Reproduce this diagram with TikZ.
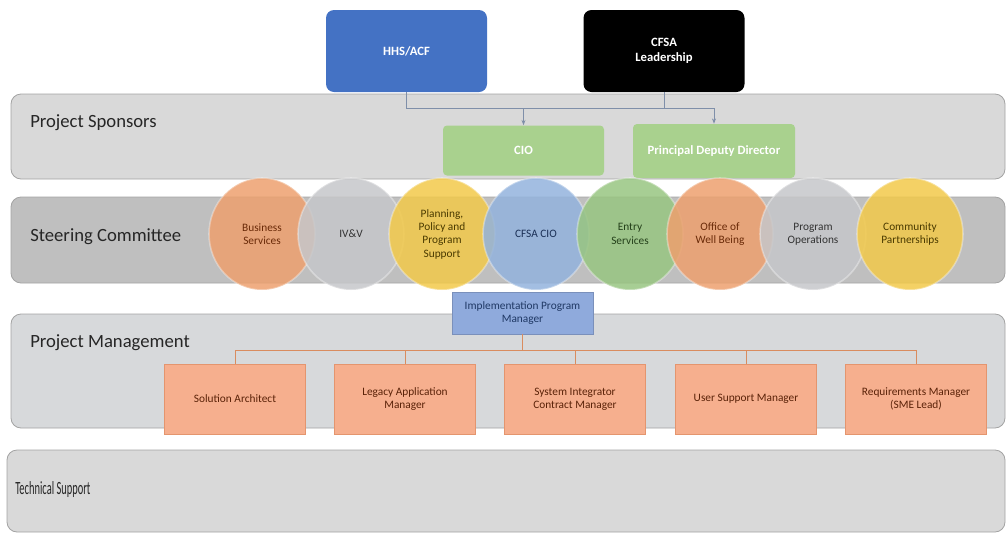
\documentclass[tikz,border=0pt]{standalone}
\usepackage{fontspec}
\setmainfont{Carlito}
\usetikzlibrary{arrows.meta,shapes.geometric}
\definecolor{bandlight}{HTML}{D9D9D9}
\definecolor{banddark}{HTML}{BFBFBF}
\definecolor{bandpm}{HTML}{D7D9DB}
\definecolor{bandline}{HTML}{A3A3A3}
\definecolor{hhsblue}{HTML}{4472C4}
\definecolor{greenbox}{HTML}{A9D18E}
\definecolor{conncol}{HTML}{7F8FA9}
\definecolor{corange}{HTML}{EDA06E}
\definecolor{cgray}{HTML}{C6C7CA}
\definecolor{cyellow}{HTML}{F2C94A}
\definecolor{cblue}{HTML}{93B3DD}
\definecolor{cgreen}{HTML}{98C581}
\definecolor{torange}{HTML}{6A2A08}
\definecolor{tgray}{HTML}{333333}
\definecolor{tyellow}{HTML}{4A3A00}
\definecolor{tblue}{HTML}{1A2F55}
\definecolor{tgreen}{HTML}{24401A}
\definecolor{ipmfill}{HTML}{8FAADC}
\definecolor{ipmtext}{HTML}{1F3864}
\definecolor{rolefill}{HTML}{F6AF8E}
\definecolor{roleline}{HTML}{E4956E}
\definecolor{roletext}{HTML}{5A2208}
\definecolor{orgline}{HTML}{D98C5F}
\begin{document}
\begin{tikzpicture}[x=0.75pt,y=-0.75pt,
  band/.style={draw=bandline, line width=0.6pt, rounded corners=7.5pt},
  bandlabel/.style={anchor=west, inner sep=0pt, font=\fontsize{14}{16}\selectfont, text=black!85},
  topbox/.style={rounded corners=6pt, minimum width=120.75pt, minimum height=61.5pt, inner sep=1pt,
    align=center, text=white, font=\bfseries\fontsize{9.5}{11.5}\selectfont},
  greenbox/.style={fill=greenbox, rounded corners=3pt, inner sep=1pt, align=center, text=white,
    font=\bfseries\fontsize{9.5}{11.5}\selectfont},
  conn/.style={draw=conncol, line width=0.6pt},
  member/.style={ellipse, minimum width=79.5pt, minimum height=84pt, inner sep=0pt,
    fill opacity=0.85, text opacity=1, draw=white, draw opacity=0.35, line width=1.2pt,
    align=center, font=\fontsize{8.5}{10}\selectfont},
  ipm/.style={fill=ipmfill, draw=ipmfill!85!black, line width=0.4pt, minimum width=105.75pt,
    minimum height=31.5pt, inner sep=1pt, align=center, text=ipmtext, font=\fontsize{8.5}{10}\selectfont},
  role/.style={fill=rolefill, draw=roleline, line width=0.5pt, minimum width=105.75pt,
    minimum height=52.5pt, inner sep=2pt, align=center, text=roletext, font=\fontsize{8.5}{10}\selectfont},
  orgconn/.style={draw=orgline, line width=0.7pt}
]
\useasboundingbox (0,0) rectangle (1008,533);

% bands
\draw[band, fill=bandlight] (11,94) rectangle (1005,179);
\draw[band, fill=banddark] (11,197) rectangle (1005,283);
\draw[band, fill=bandpm] (11,314) rectangle (1005,428);
\draw[band, fill=bandlight] (7,450) rectangle (1005,532);

\node[bandlabel] (lps) at (30,123) {Project Sponsors};
\node[bandlabel] (lsc) at (30,237) {Steering Committee};
\node[bandlabel] (lpm) at (30,343) {Project Management};
\node[bandlabel] (lts) at (15,490) {\scalebox{0.56}[1]{Technical Support}};

% top boxes
\node[topbox, fill=hhsblue] (hhs) at (406.5,51) {HHS/ACF};
\node[topbox, fill=black] (cfsa) at (664,51) {CFSA\\Leadership};

% sponsor boxes
\node[greenbox, minimum width=120.75pt, minimum height=37.5pt] (cio) at (523.5,150.5) {CIO};
\node[greenbox, minimum width=121.5pt, minimum height=40.5pt] (pdd) at (714,151) {Principal Deputy Director};

% sponsor connectors
\coordinate (jl) at (406.5,108);
\coordinate (jr) at (714,108);
\draw[conn] (hhs.south) -- (jl) -- (jr);
\draw[conn] (cfsa.south) -- (cfsa.south |- jl);
\draw[conn, -{Stealth[length=4pt,width=3pt]}] (cio.north |- jl) -- (cio.north);
\draw[conn, -{Stealth[length=4pt,width=3pt]}] (jr) -- (pdd.north);

% steering committee members
\node[member, fill=corange, text=torange] (bs) at (262,234) {Business\\Services};
\node[member, fill=cgray, text=tgray] (ivv) at (351,234) {IV\&V};
\node[member, fill=cyellow, text=tyellow] (ppp) at (442,234) {Planning,\\Policy and\\Program\\Support};
\node[member, fill=cblue, text=tblue] (ccio) at (536,234) {CFSA CIO};
\node[member, fill=cgreen, text=tgreen] (es) at (630,234) {Entry\\Services};
\node[member, fill=corange, text=torange] (owb) at (720,234) {Office of\\Well Being};
\node[member, fill=cgray, text=tgray] (po) at (813,234) {Program\\Operations};
\node[member, fill=cyellow, text=tyellow] (cp) at (910,234) {Community\\Partnerships};

% project management
\node[ipm] (ipmn) at (522.5,313) {Implementation Program\\Manager};

\node[role] (sa) at (235,399) {Solution Architect};
\node[role] (lam) at (405,399) {Legacy Application\\Manager};
\node[role] (sicm) at (575,399) {System Integrator\\Contract Manager};
\node[role] (usm) at (746,399) {User Support Manager};
\node[role] (rm) at (916,399) {Requirements Manager\\(SME Lead)};

\coordinate (bus) at (522.5,350);
\draw[orgconn] (ipmn.south) -- (bus);
\draw[orgconn] (sa.north) |- (bus);
\draw[orgconn] (rm.north) |- (bus);
\draw[orgconn] (lam.north) -- (lam.north |- bus);
\draw[orgconn] (sicm.north) -- (sicm.north |- bus);
\draw[orgconn] (usm.north) -- (usm.north |- bus);
\end{tikzpicture}
\end{document}
